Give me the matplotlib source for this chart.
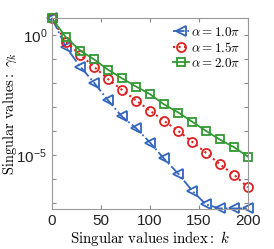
import matplotlib.pyplot as plt
import numpy as np

# singular value index (markers)
k = [0, 14, 29, 43, 57, 71, 86, 100, 114, 129, 143, 157, 171, 186, 200]

# log10 of singular values
log_a10 = [0.70, -0.49, -1.32, -1.99, -2.71, -3.38, -3.89, -4.48, -5.14, -5.79, -6.49, -7.06, -7.23, -7.23, -7.23]
log_a15 = [0.70, -0.28, -0.83, -1.32, -1.83, -2.27, -2.73, -3.15, -3.57, -4.00, -4.45, -4.90, -5.38, -5.83, -6.35]
log_a20 = [0.70, -0.08, -0.65, -1.01, -1.44, -1.79, -2.15, -2.46, -2.88, -3.23, -3.61, -3.99, -4.35, -4.68, -5.07]

labels = [r'$\alpha = 1.0\pi$', r'$\alpha = 1.5\pi$', r'$\alpha = 2.0\pi$']

plt.rcParams['font.family'] = ['Liberation Sans', 'DejaVu Sans']

fig = plt.figure(figsize=(2.74, 2.49), dpi=100)
ax = fig.add_axes([0.19, 0.161, 0.715, 0.767])

ax.semilogy(k, 10**np.array(log_a10), '-.', marker='<', color='#3366bb', mfc='none',
            ms=7, mew=1.3, lw=1.3, label=labels[0], clip_on=False)
ax.semilogy(k, 10**np.array(log_a15), ':', marker='o', color='#dd2222', mfc='none',
            ms=6.5, mew=1.3, lw=1.5, label=labels[1], clip_on=False)
ax.semilogy(k, 10**np.array(log_a20), '-', marker='s', color='#339933', mfc='none',
            ms=5.5, mew=1.3, lw=1.3, label=labels[2], clip_on=False)

ax.set_xlim(0, 200)
ax.set_ylim(10**-7.25, 10**0.72)
ax.set_xticks([0, 50, 100, 150, 200])
ax.set_yticks([10.0**e for e in range(-7, 1)])
ax.set_yticklabels(['' if e not in (0, -5) else r'$\mathregular{10^{%d}}$' % e for e in range(-7, 1)])
ax.minorticks_off()
ax.tick_params(direction='in', top=True, right=True, labelsize=11, length=3,
               color='#888888', labelcolor='#222222')
for s in ax.spines.values():
    s.set_color('#999999')
    s.set_linewidth(0.8)

ax.set_xlabel(r'$\mathrm{Singular\ values\ index:}\ k$', fontsize=10.7, math_fontfamily='cm', labelpad=1)
ax.set_ylabel(r'$\mathrm{Singular\ values:}\ \gamma_k$', fontsize=10.4, math_fontfamily='cm')
ax.yaxis.set_label_coords(-0.17, 0.5)

leg = ax.legend(loc='upper right', frameon=False, fontsize=9.4, handlelength=1.2,
                handletextpad=0.15, labelspacing=0.15, borderaxespad=0.3, borderpad=0.3)
for t in leg.get_texts():
    t.set_math_fontfamily('cm')

fig.savefig('out.png', dpi=100)
